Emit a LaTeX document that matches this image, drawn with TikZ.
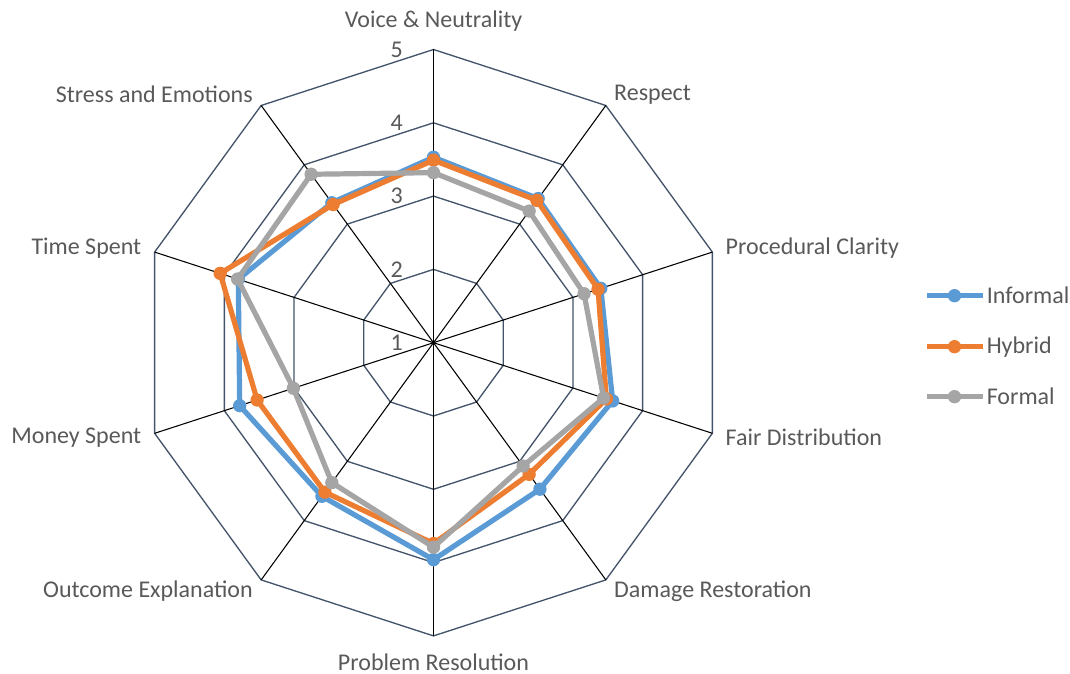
\documentclass[tikz,border=0pt]{standalone}
\usepackage{fontspec}
\setmainfont{Carlito}
\usetikzlibrary{calc}

\definecolor{informal}{HTML}{5B9BD5}
\definecolor{hybrid}{HTML}{ED7D31}
\definecolor{formal}{HTML}{A5A5A5}
\definecolor{gridline}{HTML}{44546A}
\definecolor{labeltext}{HTML}{595959}

\tikzset{
  axislabel/.style={text=labeltext, font=\fontsize{18}{21}\selectfont, inner sep=0pt},
  series/.style={line width=3.9pt, line join=round},
}

\begin{document}
\begin{tikzpicture}[x=0.75pt,y=0.75pt]
  \useasboundingbox (-433.5,-331.3) rectangle (636.5,342.7);
  \def\unit{73.3}

  % decagons for the levels 2 to 5
  \foreach \lev in {1,...,4}{
    \draw[gridline, line width=1pt] (90:{\lev*\unit})
      \foreach \k in {1,...,9}{-- (90-36*\k:{\lev*\unit})} -- cycle;
  }
  % spokes
  \foreach \k in {0,...,9}
    \draw[black, line width=0.8pt] (0,0) -- (90-36*\k:{4*\unit});

  % scale
  \foreach \lev in {0,...,4}
    \node[axislabel, anchor=east] (scale\lev) at (-30.5,{\lev*\unit}) {\the\numexpr\lev+1\relax};

  % axis names
  \node[axislabel] (voice) at (90:322) {Voice \& Neutrality};
  \node[axislabel, anchor=west] (respect) at (54:307) {Respect};
  \node[axislabel, anchor=west] (clarity) at (18:307) {Procedural Clarity};
  \node[axislabel, anchor=west] (fair) at (-18:307) {Fair Distribution};
  \node[axislabel, anchor=west] (damage) at (-54:307) {Damage Restoration};
  \node[axislabel] (problem) at (-90:320) {Problem Resolution};
  \node[axislabel, anchor=east] (outcome) at (-126:307) {Outcome Explanation};
  \node[axislabel, anchor=east] (money) at (-162:307) {Money Spent};
  \node[axislabel, anchor=east] (time) at (162:307) {Time Spent};
  \node[axislabel, anchor=east] (stress) at (126:307) {Stress and Emotions};

  % data points
  \foreach \name/\vals in {inf/{3.53,3.43,3.40,3.57,3.47,3.96,3.59,3.78,3.80,3.36},
                           hyb/{3.49,3.40,3.36,3.48,3.22,3.74,3.52,3.53,4.06,3.33},
                           frm/{3.32,3.22,3.16,3.44,3.08,3.79,3.36,3.01,3.81,3.84}}{
    \foreach \v [count=\k from 0] in \vals
      \coordinate (\name\k) at (90-36*\k:{(\v-1)*\unit});
  }

  \foreach \name/\col in {inf/informal, hyb/hybrid, frm/formal}{
    \draw[series, \col] (\name0) \foreach \k in {1,...,9}{-- (\name\k)} -- cycle;
    \foreach \k in {0,...,9}
      \fill[\col] (\name\k) circle (5pt);
  }

  % legend
  \node[axislabel, anchor=west, inner xsep=3pt] (leginf) at (549,47) {Informal};
  \node[axislabel, anchor=west, inner xsep=3pt] (leghyb) at (549,-4) {Hybrid};
  \node[axislabel, anchor=west, inner xsep=3pt] (legfrm) at (549,-54) {Formal};
  \coordinate (infstart) at (493,47);
  \coordinate (hybstart) at (493,-4);
  \coordinate (frmstart) at (493,-54);
  \draw[series, informal] (infstart) -- (leginf.west);
  \draw[series, hybrid] (hybstart) -- (leghyb.west);
  \draw[series, formal] (frmstart) -- (legfrm.west);
  \fill[informal] ($(infstart)!0.5!(leginf.west)$) circle (5pt);
  \fill[hybrid] ($(hybstart)!0.5!(leghyb.west)$) circle (5pt);
  \fill[formal] ($(frmstart)!0.5!(legfrm.west)$) circle (5pt);
\end{tikzpicture}
\end{document}
